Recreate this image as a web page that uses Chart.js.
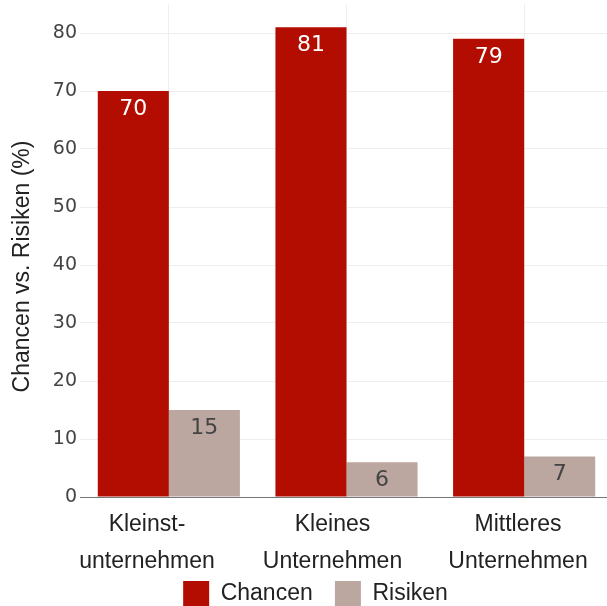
<!DOCTYPE html>
<html>
<head>
<meta charset="utf-8">
<script src="https://cdn.jsdelivr.net/npm/chart.js@4/dist/chart.umd.min.js"></script>
<style>
  html, body { margin: 0; padding: 0; overflow: hidden; background: #fff; }
  #wrap { width: 630px; height: 617px; }
</style>
</head>
<body>
<div id="wrap"><canvas id="chancenchart"></canvas></div>
<script>
// categories and values
var categories = [["Kleinst-", "unternehmen"], ["Kleines", "Unternehmen"], ["Mittleres", "Unternehmen"]];
var chancen = [70, 81, 79];
var risiken = [15, 6, 7];
var yTicks = [0, 10, 20, 30, 40, 50, 60, 70, 80];

var tickFont = "'DejaVu Sans', Verdana, sans-serif";
var textFont = "'Liberation Sans', Arial, sans-serif";

// writes the value inside each bar, just under its top
var barValues = {
  id: 'barValues',
  afterDatasetsDraw: function(chart) {
    var ctx = chart.ctx;
    ctx.save();
    ctx.font = "22px " + tickFont;
    ctx.textAlign = "center";
    ctx.textBaseline = "middle";
    chart.data.datasets.forEach(function(ds, i) {
      chart.getDatasetMeta(i).data.forEach(function(bar, j) {
        ctx.fillStyle = i === 0 ? "#ffffff" : "#444444";
        ctx.fillText(ds.data[j], bar.x, bar.y + 18);
      });
    });
    ctx.restore();
  }
};

var ctx = document.getElementById("chancenchart").getContext("2d");
var chancenchart = new Chart(ctx, {
  type: 'bar',
  data: {
    labels: categories,
    datasets: [
      { label: "Chancen", data: chancen, backgroundColor: "#b30c00" },
      { label: "Risiken", data: risiken, backgroundColor: "#bca6a0" }
    ]
  },
  options: {
    responsive: true,
    maintainAspectRatio: false,
    animation: false,
    categoryPercentage: 0.8,
    barPercentage: 1.0,
    // left padding plus a narrower y axis keeps the plot at the same place
    // but moves the centred legend a bit to the right
    layout: { padding: { top: 4, right: 17, left: 18, bottom: 0 } },
    plugins: {
      tooltip: { enabled: false },
      legend: {
        position: 'bottom',
        labels: {
          font: { family: textFont, size: 23 },
          color: "#222",
          boxWidth: 26,
          boxHeight: 26,
          padding: 3,
          // small padding keeps the legend tight under the axis,
          // so the gap between the two entries comes from the text
          generateLabels: function(chart) {
            var items = Chart.defaults.plugins.legend.labels.generateLabels(chart);
            items[0].text += "\u00a0\u00a0\u00a0";
            return items;
          }
        }
      }
    },
    scales: {
      // category axis: bars, vertical grid and the base line
      x: {
        afterFit: function(scale) { scale.height = 0; },
        grid: { color: "#eeeeee", offset: false, drawTicks: false },
        border: { color: "#777777", width: 1 },
        ticks: { display: false }
      },
      // label axis: category names spread a little wider than the bar groups
      xLabels: {
        type: 'linear',
        position: 'bottom',
        offset: false,
        bounds: 'data',
        min: -0.361,
        max: 2.512,
        afterBuildTicks: function(scale) {
          scale.ticks = categories.map(function(c, i) { return { value: i }; });
        },
        afterFit: function(scale) { scale.height = 81; },
        grid: { display: false },
        border: { display: false },
        ticks: {
          font: { family: textFont, size: 23, lineHeight: 1.6 },
          color: "#222",
          padding: 1,
          maxRotation: 0,
          callback: function(value) { return categories[value]; }
        }
      },
      y: {
        min: 0,
        max: 85,
        afterBuildTicks: function(scale) {
          scale.ticks = yTicks.map(function(v) { return { value: v }; });
        },
        afterFit: function(scale) {
          scale.width = 62;
          scale.paddingTop = 0;
          scale.paddingBottom = 0;
        },
        grid: { color: "#eeeeee", drawTicks: false },
        border: { display: false },
        ticks: {
          font: { family: tickFont, size: 19 },
          color: "#444",
          padding: 3
        },
        title: {
          display: true,
          text: "Chancen vs. Risiken (%)\u00a0\u00a0\u00a0\u00a0\u00a0",
          font: { family: textFont, size: 23 },
          color: "#222",
          padding: { top: -9, bottom: 0 }
        }
      }
    }
  },
  plugins: [barValues]
});
</script>
</body>
</html>
